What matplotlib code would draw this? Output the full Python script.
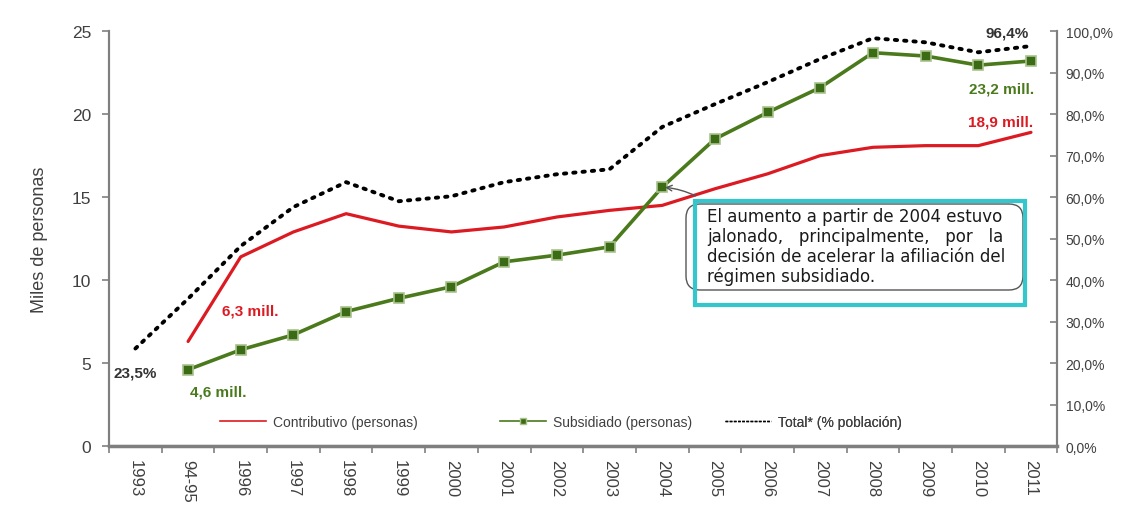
import matplotlib.pyplot as plt
from matplotlib.lines import Line2D
from matplotlib.patches import FancyBboxPatch, Rectangle
from matplotlib.ticker import FuncFormatter

# datos
anios = ['1993', '94-95', '1996', '1997', '1998', '1999', '2000', '2001', '2002',
         '2003', '2004', '2005', '2006', '2007', '2008', '2009', '2010', '2011']
# millones de personas, desde 94-95
contributivo = [6.3, 11.4, 12.9, 14.0, 13.25, 12.9, 13.2, 13.8, 14.2, 14.5,
                15.5, 16.4, 17.5, 18.0, 18.1, 18.1, 18.9]
subsidiado = [4.6, 5.8, 6.7, 8.1, 8.9, 9.6, 11.1, 11.5, 12.0, 15.6,
              18.5, 20.1, 21.6, 23.7, 23.5, 22.95, 23.2]
# % de la poblacion, desde 1993
total = [23.5, 35.5, 48.2, 57.6, 63.6, 59.0, 60.2, 63.6, 65.5, 66.7,
         76.9, 82.4, 87.7, 93.3, 98.3, 97.3, 94.9, 96.4]

rojo = '#dc1a22'
verde = '#4a7a1c'
gris = '#404040'
fuente = ['Liberation Sans', 'DejaVu Sans']
plt.rcParams['font.family'] = fuente

fig = plt.figure(figsize=(11.48, 5.1), dpi=100)
ax = fig.add_axes([0.095, 0.1235, 0.826, 0.8135])
ax2 = ax.twinx()

x_all = list(range(len(anios)))
x_sub = x_all[1:]

ax.plot(x_sub, contributivo, color=rojo, linewidth=2.3, solid_capstyle='round')
ax.plot(x_sub, subsidiado, color=verde, linewidth=2.6, marker='s', markersize=7,
        markerfacecolor='#3b6b14', markeredgecolor='#a9c38e', markeredgewidth=1.2)
ax2.plot(x_all, total, color='black', linewidth=2.8, linestyle=(0, (0.6, 1.8)),
         dash_capstyle='round')

ax.set_xlim(-0.5, len(anios) - 0.5)
ax.set_ylim(0, 25)
ax2.set_ylim(0, 100)

ax.set_xticks([i - 0.5 for i in range(len(anios) + 1)])
ax.set_xticklabels([])
ax.set_xticks(x_all, minor=True)
ax.set_xticklabels(anios, minor=True, rotation=-90, fontsize=12, color=gris)
ax.tick_params(axis='x', which='minor', length=0, pad=9)
ax.tick_params(axis='x', which='major', length=5, color='#808080', width=1.2)

ax.set_yticks([0, 5, 10, 15, 20, 25])
ax.tick_params(axis='y', labelsize=12.5, labelcolor=gris, length=5,
               color='#808080', width=1.2, pad=8)
ax2.set_yticks(range(0, 101, 10))
ax2.yaxis.set_major_formatter(FuncFormatter(lambda v, p: f'{v:.1f}%'.replace('.', ',')))
ax2.tick_params(axis='y', labelsize=10, labelcolor=gris, direction='in', length=5,
                color='#808080', width=1.2, pad=6)

for a in (ax, ax2):
    a.spines['top'].set_visible(False)
    for s in ('left', 'right', 'bottom'):
        a.spines[s].set_color('#7f7f7f')
        a.spines[s].set_linewidth(1.5)
ax.spines['bottom'].set_linewidth(2.5)
ax.set_ylabel('Miles de personas', fontsize=13, color=gris, labelpad=17)

# etiquetas de valores
etiqueta = dict(textcoords='offset points', ha='center', va='center',
                fontsize=11, fontweight='bold')
ax2.annotate('23,5%', (0, total[0]), xytext=(0, -17), color='#333333', **etiqueta)
ax2.annotate('96,4%', (17, total[-1]), xytext=(-17, 10), color='#333333', **etiqueta)
ax.annotate('4,6 mill.', (1, subsidiado[0]), xytext=(22, -16), color=verde, **etiqueta)
ax.annotate('6,3 mill.', (1, contributivo[0]), xytext=(45, 22), color=rojo, **etiqueta)
ax.annotate('23,2 mill.', (17, subsidiado[-1]), xytext=(-21, -20), color=verde, **etiqueta)
ax.annotate('18,9 mill.', (17, contributivo[-1]), xytext=(-22, 8), color=rojo, **etiqueta)

# leyenda: tres entradas separadas como en el original
entradas = [
    (Line2D([], [], color=rojo, linewidth=1.2), 'Contributivo (personas)', 0.117),
    (Line2D([], [], color=verde, linewidth=1.2, marker='s', markersize=4,
            markerfacecolor='#3b6b14', markeredgecolor='#a9c38e'),
     'Subsidiado (personas)', 0.412),
    (Line2D([], [], color='black', linewidth=1, linestyle=(0, (2, 1))),
     'Total* (% población)', 0.65),
]
for h, lab, xpos in entradas:
    leg = ax.legend([h], [lab], loc='center left', bbox_to_anchor=(xpos, 0.058),
                    frameon=False, handlelength=3.3, handletextpad=0.5,
                    borderpad=0, borderaxespad=0, numpoints=1,
                    prop={'size': 10}, labelcolor=gris)
    ax.add_artist(leg)

# recuadro con el comentario
H = 510
fig.patches.append(Rectangle((695, H - 306), 330, 104, transform=None, fill=False,
                             edgecolor='#33c6cc', linewidth=3, zorder=5))
fig.patches.append(FancyBboxPatch((686, H - 291), 337, 86, transform=None,
                                  boxstyle='round,pad=0,rounding_size=14',
                                  facecolor='white', edgecolor='#555555',
                                  linewidth=1, zorder=4))
lineas = ['El aumento a partir de 2004 estuvo',
          'jalonado,   principalmente,   por   la',
          'decisión de acelerar la afiliación del',
          'régimen subsidiado.']
for i, t in enumerate(lineas):
    fig.text(707 / 1148, 1 - (217 + 20 * i) / H, t, fontsize=12, color='#1a1a1a',
             va='center', ha='left', family='DejaVu Sans', zorder=6)

ax.annotate('', xy=(10, subsidiado[9]), xytext=(698, H - 198),
            textcoords='figure pixels',
            arrowprops=dict(arrowstyle='->', color='#555555', lw=1,
                            connectionstyle='arc3,rad=0.1'))

fig.savefig('out.png', dpi=100, facecolor='white')
